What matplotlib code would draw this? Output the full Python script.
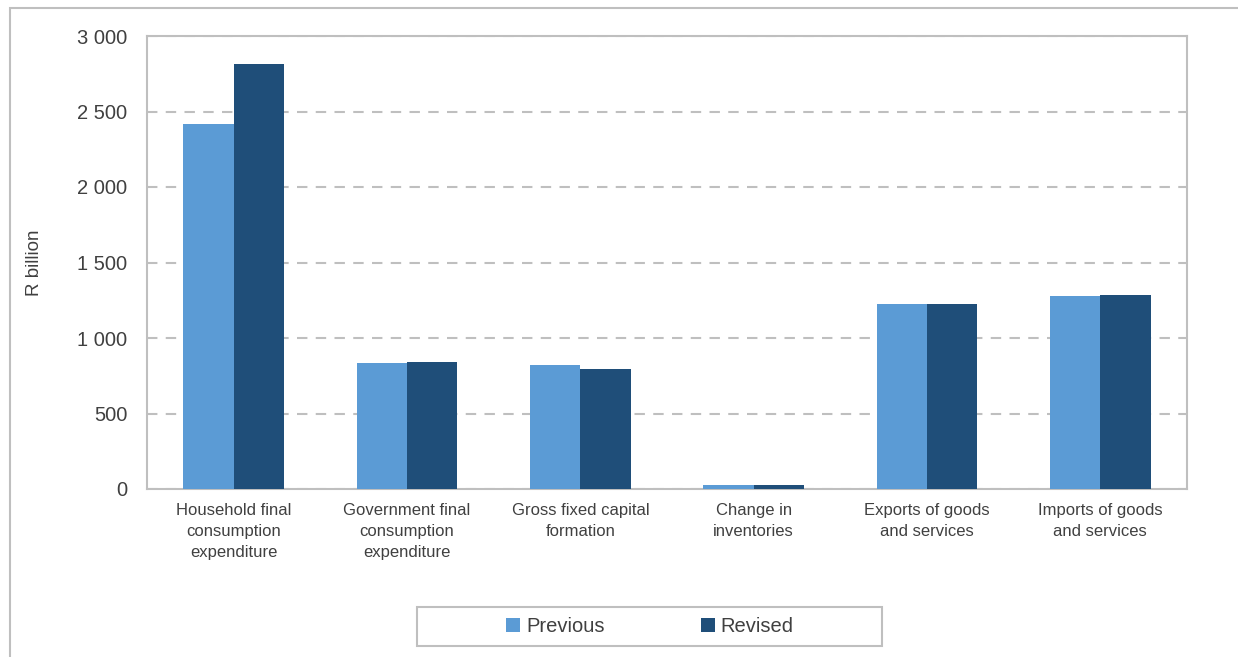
import numpy as np
import matplotlib
matplotlib.use("Agg")
import matplotlib.pyplot as plt
from matplotlib.patches import Rectangle

plt.rcParams["font.family"] = ["Liberation Sans", "DejaVu Sans"]

categories = [
    "Household final\nconsumption\nexpenditure",
    "Government final\nconsumption\nexpenditure",
    "Gross fixed capital\nformation",
    "Change in\ninventories",
    "Exports of goods\nand services",
    "Imports of goods\nand services",
]
previous = [2417, 832, 824, 29, 1223, 1276]
revised = [2815, 838, 795, 29, 1223, 1282]
y_ticks = [0, 500, 1000, 1500, 2000, 2500, 3000]
y_tick_labels = ["0", "500", "1 000", "1 500", "2 000", "2 500", "3 000"]

text_color = "#404040"
frame_color = "#bfbfbf"
c_prev = "#5b9bd5"
c_rev = "#1f4e79"

W, H = 1238, 657
fig = plt.figure(figsize=(W / 100, H / 100), dpi=100)
# outer chart frame (right and bottom run off the image)
fig.patches.append(Rectangle((10 / W, -0.1), 1.2, 1.1 - 8 / H, transform=fig.transFigure,
                             fill=False, edgecolor=frame_color, linewidth=1.5))

ax = fig.add_axes([147 / W, 1 - 489 / H, 1040 / W, 453 / H])
x = np.arange(len(categories))
w = 0.29
ax.bar(x - w / 2, previous, width=w, color=c_prev, label="Previous", zorder=3)
ax.bar(x + w / 2, revised, width=w, color=c_rev, label="Revised", zorder=3)

ax.set_xlim(-0.5, len(categories) - 0.5)
ax.set_ylim(0, 3000)
ax.set_yticks(y_ticks)
ax.set_yticklabels(y_tick_labels, fontsize=14.5, color=text_color)
ax.set_xticks(x)
ax.set_xticklabels(categories, fontsize=12, color=text_color, linespacing=1.5)
ax.tick_params(axis="y", length=0, pad=14)
ax.tick_params(axis="x", length=0, pad=10)
ax.yaxis.grid(True, linestyle=(0, (5, 4)), color=frame_color, linewidth=1.5, zorder=0)
for s in ax.spines.values():
    s.set_color(frame_color)
    s.set_linewidth(1.5)
ax.set_ylabel("R billion", fontsize=13.5, color=text_color, labelpad=25)

# legend box drawn separately so its width matches the reference
fig.patches.append(Rectangle((417 / W, 1 - 646 / H), 465 / W, 39 / H, transform=fig.transFigure,
                             fill=False, edgecolor=frame_color, linewidth=1.5))
leg = fig.legend(loc="center", bbox_to_anchor=(650 / W, 1 - 626.5 / H), ncol=2,
                 fontsize=14.5, frameon=False, handlelength=0.7, handleheight=0.7,
                 handletextpad=0.3, columnspacing=4.75)
for t in leg.get_texts():
    t.set_color(text_color)

fig.savefig("out.png", dpi=100)
